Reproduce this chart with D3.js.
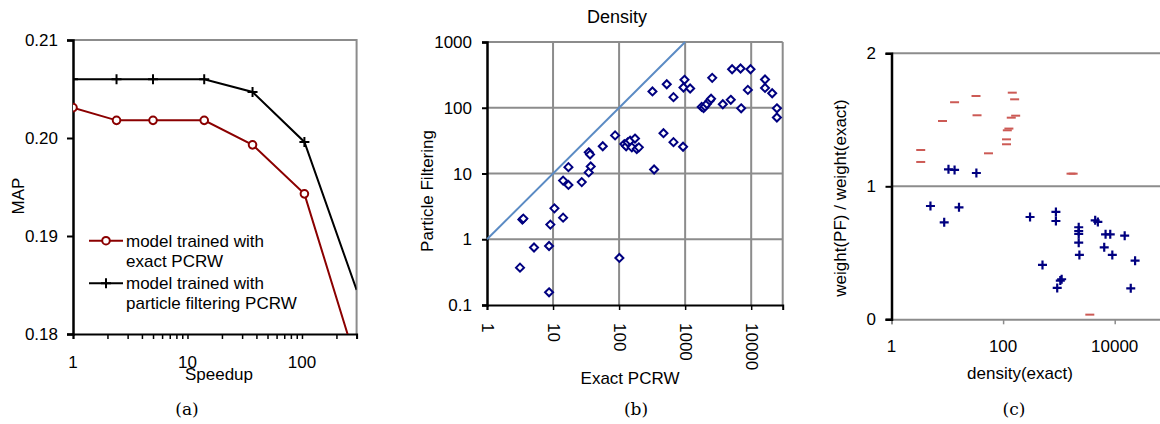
<!DOCTYPE html>
<html><head><meta charset="utf-8">
<script src="https://cdn.jsdelivr.net/npm/d3@7"></script>
<style>
html,body{margin:0;padding:0;background:#fff;}
svg text{font-family:"Liberation Sans",Arial,sans-serif;font-size:17px;fill:#000;}
svg text.cap{font-family:"DejaVu Serif","Liberation Serif",serif;font-size:17px;}
</style></head>
<body><svg id="c" width="1160" height="424"></svg>
<script>
// ---------- Panel (a) data ----------
const speedup = [1, 2.4, 5, 14, 37, 105, 300];
const mapExact = [0.2031, 0.2018, 0.2018, 0.2018, 0.1993, 0.1943, 0.177];
const mapPF    = [0.2060, 0.2060, 0.2060, 0.2060, 0.2047, 0.1996, 0.1845];
const mapTicks = [0.18, 0.19, 0.20, 0.21];
const speedTicks = [1, 10, 100];
const legendA = [["model trained with", "exact PCRW"], ["model trained with", "particle filtering PCRW"]];

// ---------- Panel (b) data ----------
const exactB = [3.16, 3.43, 3.55, 5.15, 8.7, 8.7, 9.1, 10.5, 14.2, 14.2, 17.1, 17.1, 27.2, 34.7, 34.7, 36.3, 37.2, 56.6, 87, 101,
  120, 128, 135, 147, 156, 174, 185, 199, 320, 339, 470, 527, 666, 666, 930, 944, 977, 1190,
  1780, 1900, 2000, 2130, 2350, 2470, 2570, 3720, 4910, 5140, 6900, 7050, 8900, 9770, 16200, 16200, 20800, 24500, 24500];
const pfB = [0.37, 1.99, 2.06, 0.75, 0.156, 0.79, 1.67, 2.95, 2.13, 7.8, 12.5, 6.7, 7.4, 10.4, 21, 19.4, 12.8, 26, 38, 0.52,
  28, 26, 29.8, 31.6, 25, 34, 23.6, 25, 177, 11.5, 41, 228, 145, 30, 25.5, 203, 266, 196,
  103, 99, 105, 114, 128, 137, 285, 113, 132, 385, 395, 98, 187, 385, 269, 200, 166, 98, 71];
const decadeTicksB = [1, 10, 100, 1000, 10000];
const yTicksB = [0.1, 1, 10, 100, 1000];

// ---------- Panel (c) data ----------
const densUp = [3.34, 3.34, 8.2, 13.5, 32.7, 34.1, 54.7, 115, 115, 119, 127, 140, 168, 146, 161, 1650, 1800, 3580];
const ratioUp = [1.273, 1.183, 1.491, 1.632, 1.679, 1.534, 1.248, 1.316, 1.353, 1.421, 1.434, 1.516, 1.531, 1.704, 1.654, 1.095, 1.095, 0.035];
const densDown = [4.99, 8.8, 10.5, 13.5, 16.2, 33.2, 304, 508, 884, 884, 933, 1059, 1120, 2265, 2265, 2265, 2265, 2330,
  4470, 4990, 6490, 6860, 8320, 9060, 15100, 19400, 23200];
const ratioDown = [0.852, 0.729, 1.128, 1.123, 0.842, 1.100, 0.769, 0.409, 0.807, 0.739, 0.236, 0.291, 0.301, 0.692, 0.664, 0.642, 0.576, 0.484,
  0.744, 0.732, 0.541, 0.639, 0.639, 0.484, 0.629, 0.233, 0.441];
const xTicksC = [1, 100, 10000];
const yTicksC = [0, 1, 2];
const captions = ["(a)", "(b)", "(c)"];

const svg = d3.select("#c");
const GRID = "#8c8c8c";
const defs = svg.append("defs");

// ================= Panel (a) =================
{
  const x = d3.scaleLog().domain([1, 300]).range([73, 356.6]);
  const y = d3.scaleLinear().domain([0.18, 0.21]).range([334, 40]);
  const g = svg.append("g");
  defs.append("clipPath").attr("id", "clipA").append("rect")
    .attr("x", 73).attr("y", 40).attr("width", 356.6 - 73).attr("height", 294);
  g.append("path").attr("d", `M${x(1)},${y(0.21)}H${x(300)}V${y(0.18)}`)
    .attr("fill", "none").attr("stroke", GRID).attr("stroke-width", 2);
  const xa = g.append("g").attr("transform", `translate(0,${y(0.18)})`)
    .call(d3.axisBottom(x).tickValues(d3.range(1, 10).concat(d3.range(10, 100, 10), d3.range(100, 301, 100))).tickSize(5).tickFormat(""));
  xa.select(".domain").attr("stroke", "#000").attr("stroke-width", 2);
  xa.selectAll(".tick line").attr("stroke", "#000").attr("stroke-width", 1.5);
  g.selectAll(".xl").data(speedTicks).enter().append("text")
    .attr("x", d => x(d)).attr("y", 368).attr("text-anchor", "middle").text(d => d);
  const ya = g.append("g").attr("transform", `translate(${x(1)},0)`)
    .call(d3.axisLeft(y).tickValues(mapTicks).tickSize(6).tickFormat(""));
  ya.select(".domain").attr("stroke", "#000").attr("stroke-width", 2.5);
  ya.selectAll(".tick line").attr("stroke", "#000").attr("stroke-width", 2);
  g.selectAll(".yl").data(mapTicks).enter().append("text")
    .attr("x", 58).attr("y", d => y(d) + 6).attr("text-anchor", "end").text(d => d.toFixed(2));
  g.append("text").attr("x", 219).attr("y", 380).attr("text-anchor", "middle").text("Speedup");
  g.append("text").attr("transform", "translate(24,196) rotate(-90)").attr("text-anchor", "middle").text("MAP");

  const pc = g.append("g").attr("clip-path", "url(#clipA)");
  const line = d3.line().x(d => x(d[0])).y(d => y(d[1]));
  const dE = speedup.map((s, i) => [s, mapExact[i]]);
  const dP = speedup.map((s, i) => [s, mapPF[i]]);
  pc.append("path").attr("d", line(dP)).attr("fill", "none").attr("stroke", "#000").attr("stroke-width", 2);
  pc.append("path").attr("d", line(dE)).attr("fill", "none").attr("stroke", "#8b0000").attr("stroke-width", 2);
  pc.selectAll(".pp").data(dP.slice(0, 6)).enter().append("path")
    .attr("d", d => `M${x(d[0]) - 5},${y(d[1])}h10M${x(d[0])},${y(d[1]) - 5}v10`)
    .attr("stroke", "#000").attr("stroke-width", 2);
  pc.selectAll(".ce").data(dE.slice(0, 6)).enter().append("circle")
    .attr("cx", d => x(d[0])).attr("cy", d => y(d[1])).attr("r", 3.8)
    .attr("fill", "#fff").attr("stroke", "#8b0000").attr("stroke-width", 2);
  const ly = [240.7, 283.3];
  g.append("line").attr("x1", 89).attr("x2", 123).attr("y1", ly[0]).attr("y2", ly[0]).attr("stroke", "#8b0000").attr("stroke-width", 2);
  g.append("circle").attr("cx", 106).attr("cy", ly[0]).attr("r", 3.8).attr("fill", "#fff").attr("stroke", "#8b0000").attr("stroke-width", 2);
  g.append("line").attr("x1", 89).attr("x2", 123).attr("y1", ly[1]).attr("y2", ly[1]).attr("stroke", "#000").attr("stroke-width", 2);
  g.append("path").attr("d", `M101,${ly[1]}h10M106,${ly[1] - 5}v10`).attr("stroke", "#000").attr("stroke-width", 2);
  legendA.forEach((lines, i) => {
    lines.forEach((t, j) => {
      g.append("text").attr("x", 126).attr("y", ly[i] + 6 + j * 20).text(t);
    });
  });
}

// ================= Panel (b) =================
{
  const x = d3.scaleLog().domain([1, 30000]).range([487, 782.7]);
  const y = d3.scaleLog().domain([0.1, 1000]).range([305, 42]);
  const g = svg.append("g");
  g.selectAll(".gv").data(decadeTicksB.slice(1).concat([30000])).enter().append("line")
    .attr("x1", d => x(d)).attr("x2", d => x(d)).attr("y1", y(1000)).attr("y2", y(0.1))
    .attr("stroke", GRID).attr("stroke-width", 2);
  g.selectAll(".gh").data(yTicksB.slice(1)).enter().append("line")
    .attr("x1", x(1)).attr("x2", x(30000)).attr("y1", d => y(d)).attr("y2", d => y(d))
    .attr("stroke", GRID).attr("stroke-width", 2);
  const xa = g.append("g").attr("transform", `translate(0,${y(0.1)})`)
    .call(d3.axisBottom(x).tickValues(decadeTicksB).tickSize(5).tickFormat(""));
  xa.select(".domain").attr("stroke", "#000").attr("stroke-width", 2);
  xa.selectAll(".tick line").attr("stroke", "#000").attr("stroke-width", 1.5);
  g.selectAll(".xl").data(decadeTicksB).enter().append("text")
    .attr("transform", d => `translate(${x(d)},323) rotate(90)`)
    .attr("dominant-baseline", "central").text(d => d);
  const ya = g.append("g").attr("transform", `translate(${x(1)},0)`)
    .call(d3.axisLeft(y).tickValues(yTicksB).tickSize(5).tickFormat(""));
  ya.select(".domain").attr("stroke", "#000").attr("stroke-width", 2.5);
  ya.selectAll(".tick line").attr("stroke", "#000").attr("stroke-width", 2);
  g.selectAll(".yl").data(yTicksB).enter().append("text")
    .attr("x", 472).attr("y", d => y(d) + 6).attr("text-anchor", "end").text(d => d);
  g.append("text").attr("x", 617).attr("y", 23).attr("text-anchor", "middle").style("font-size", "18px").text("Density");
  g.append("text").attr("x", 630).attr("y", 384).attr("text-anchor", "middle").text("Exact PCRW");
  g.append("text").attr("transform", "translate(433,191) rotate(-90)").attr("text-anchor", "middle").text("Particle Filtering");
  g.append("line").attr("x1", x(1)).attr("y1", y(1)).attr("x2", x(1000)).attr("y2", y(1000))
    .attr("stroke", "#5b8bc4").attr("stroke-width", 2);
  g.selectAll(".dm").data(exactB.map((e, i) => [e, pfB[i]])).enter().append("path")
    .attr("d", d => { const cx = x(d[0]), cy = y(d[1]), r = 4; return `M${cx},${cy - r}L${cx + r},${cy}L${cx},${cy + r}L${cx - r},${cy}Z`; })
    .attr("fill", "#fff").attr("stroke", "#000080").attr("stroke-width", 2);
}

// ================= Panel (c) =================
{
  const x = d3.scaleLog().domain([1, 1e6]).range([891.5, 891.5 + 6 * 55.8]);
  const y = d3.scaleLinear().domain([0, 2]).range([319.3, 53.3]);
  const g = svg.append("g");
  g.selectAll(".gh").data([1, 2]).enter().append("line")
    .attr("x1", x(1)).attr("x2", 1160).attr("y1", d => y(d)).attr("y2", d => y(d))
    .attr("stroke", GRID).attr("stroke-width", 2);
  const xa = g.append("g").attr("transform", `translate(0,${y(0)})`)
    .call(d3.axisBottom(x).tickValues(xTicksC).tickSize(5).tickFormat(""));
  xa.select(".domain").attr("stroke", GRID).attr("stroke-width", 2);
  xa.selectAll(".tick line").attr("stroke", GRID).attr("stroke-width", 1.5);
  g.selectAll(".xl").data(xTicksC).enter().append("text")
    .attr("x", d => x(d)).attr("y", 352).attr("text-anchor", "middle").text(d => d);
  const ya = g.append("g").attr("transform", `translate(${x(1)},0)`)
    .call(d3.axisLeft(y).tickValues(yTicksC).tickSize(6).tickFormat(""));
  ya.select(".domain").attr("stroke", "#000").attr("stroke-width", 2.5);
  ya.selectAll(".tick line").attr("stroke", "#000").attr("stroke-width", 2);
  g.selectAll(".yl").data(yTicksC).enter().append("text")
    .attr("x", 876).attr("y", d => y(d) + 6).attr("text-anchor", "end").text(d => d);
  g.append("text").attr("x", 1020).attr("y", 379).attr("text-anchor", "middle").text("density(exact)");
  g.append("text").attr("transform", "translate(846,198) rotate(-90)").attr("text-anchor", "middle").text("weight(PF) / weight(exact)");
  g.selectAll(".up").data(densUp.map((d, i) => [d, ratioUp[i]])).enter().append("line")
    .attr("x1", d => x(d[0]) - 4.5).attr("x2", d => x(d[0]) + 4.5)
    .attr("y1", d => y(d[1])).attr("y2", d => y(d[1]))
    .attr("stroke", "#cc5a55").attr("stroke-width", 2);
  g.selectAll(".dn").data(densDown.map((d, i) => [d, ratioDown[i]])).enter().append("path")
    .attr("d", d => `M${x(d[0]) - 4.5},${y(d[1])}h9M${x(d[0])},${y(d[1]) - 4.5}v9`)
    .attr("stroke", "#000080").attr("stroke-width", 2.2);
}

svg.selectAll(".cap").data(captions).enter().append("text").attr("class", "cap")
  .attr("x", (d, i) => [187, 636, 1014][i]).attr("y", 415).attr("text-anchor", "middle").text(d => d);
</script></body></html>
